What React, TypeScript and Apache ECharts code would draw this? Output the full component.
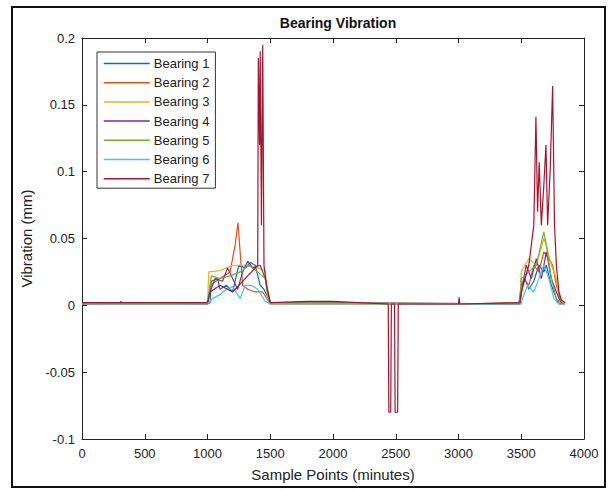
import React, { useEffect, useRef } from "react";
import * as echarts from "echarts";

const seriesNames = ["Bearing 1", "Bearing 2", "Bearing 3", "Bearing 4", "Bearing 5", "Bearing 6", "Bearing 7"];
const colors = ["#0072BD", "#D95319", "#EDB120", "#7E2F8E", "#77AC30", "#4DBEEE", "#A2142F"];
const xTicks = [0, 500, 1000, 1500, 2000, 2500, 3000, 3500, 4000];
const yTicks = [-0.1, -0.05, 0, 0.05, 0.1, 0.15, 0.2];

const bearing1: number[][] = [
  [0, 0.001], [300, 0.001], [310, 0.003], [320, 0.001], [1000, 0.001], [1020, 0.002], [1030, 0.018], [1080, 0.02],
  [1100, 0.012], [1150, 0.015], [1200, 0.01], [1250, 0.03], [1300, 0.028], [1340, 0.032], [1380, 0.03],
  [1420, 0.015], [1450, 0.012], [1480, 0.006], [1500, 0.002], [2000, 0.002], [2440, 0.001], [3000, 0.001],
  [3480, 0.001], [3500, 0.015], [3530, 0.02], [3560, 0.012], [3600, 0.018], [3640, 0.03], [3680, 0.025],
  [3700, 0.03], [3740, 0.015], [3780, 0.005], [3800, 0.001], [3850, 0.001],
];
const bearing2: number[][] = [
  [0, 0.001], [500, 0.001], [1000, 0.001], [1020, 0.015], [1100, 0.02], [1180, 0.025], [1220, 0.045],
  [1243, 0.062], [1260, 0.04], [1280, 0.015], [1320, 0.012], [1380, 0.01], [1440, 0.01], [1480, 0.004],
  [1500, 0.001], [2000, 0.001], [3000, 0.001], [3490, 0.002], [3520, 0.02], [3560, 0.015], [3600, 0.03],
  [3640, 0.025], [3680, 0.04], [3720, 0.035], [3750, 0.03], [3780, 0.015], [3820, 0.002], [3850, 0.001],
];
const bearing3: number[][] = [
  [0, 0.001], [1000, 0.001], [1010, 0.025], [1100, 0.026], [1200, 0.03], [1300, 0.03], [1400, 0.028],
  [1460, 0.026], [1480, 0.005], [1500, 0.001], [3490, 0.001], [3500, 0.025], [3560, 0.035], [3620, 0.03],
  [3680, 0.05], [3700, 0.045], [3740, 0.03], [3780, 0.02], [3800, 0.005], [3850, 0.001],
];
const bearing4: number[][] = [
  [0, 0.001], [500, 0.002], [1000, 0.001], [1020, 0.01], [1060, 0.02], [1120, 0.018], [1160, 0.028],
  [1200, 0.02], [1240, 0.012], [1280, 0.025], [1320, 0.033], [1360, 0.028], [1420, 0.03], [1460, 0.02],
  [1500, 0.002], [2000, 0.002], [3490, 0.001], [3500, 0.01], [3540, 0.03], [3580, 0.02], [3620, 0.035],
  [3660, 0.02], [3700, 0.04], [3740, 0.02], [3780, 0.01], [3820, 0.001],
];
const bearing5: number[][] = [
  [0, 0.001], [1000, 0.001], [1030, 0.022], [1100, 0.02], [1180, 0.022], [1260, 0.025], [1330, 0.03],
  [1400, 0.025], [1460, 0.02], [1490, 0.002], [3490, 0.001], [3500, 0.02], [3560, 0.025], [3620, 0.03],
  [3680, 0.055], [3700, 0.045], [3740, 0.02], [3780, 0.005], [3820, 0.001],
];
const bearing6: number[][] = [
  [0, 0.001], [1000, 0.001], [1040, 0.005], [1100, 0.008], [1150, 0.012], [1200, 0.014], [1260, 0.005],
  [1300, 0.015], [1350, 0.015], [1400, 0.012], [1460, 0.003], [1500, 0.001], [3500, 0.001], [3510, 0.005],
  [3550, 0.015], [3600, 0.01], [3640, 0.02], [3680, 0.03], [3720, 0.02], [3760, 0.005], [3800, 0.001],
];
const bearing7: number[][] = [
  [0, 0.002], [300, 0.002], [500, 0.002], [1000, 0.002], [1020, 0.01], [1100, 0.015], [1200, 0.01],
  [1300, 0.02], [1400, 0.03], [1405, 0.185], [1415, 0.12], [1420, 0.19], [1430, 0.06], [1440, 0.195],
  [1450, 0.03], [1470, 0.015], [1500, 0.002], [1800, 0.003], [2000, 0.003], [2440, 0.001], [2445, -0.08],
  [2460, -0.08], [2465, 0.001], [2490, 0.001], [2495, -0.08], [2515, -0.08], [2520, 0.001], [3000, 0.001],
  [3005, 0.006], [3010, 0.001], [3490, 0.002], [3500, 0.01], [3560, 0.03], [3600, 0.06], [3617, 0.141],
  [3630, 0.07], [3643, 0.107], [3660, 0.06], [3680, 0.09], [3697, 0.12], [3710, 0.06], [3730, 0.1],
  [3750, 0.164], [3765, 0.06], [3780, 0.03], [3800, 0.01], [3820, 0.004], [3850, 0.002],
];
const allData = [bearing1, bearing2, bearing3, bearing4, bearing5, bearing6, bearing7];

const FONT = "Liberation Sans";

export default function App() {
  const ref = useRef<HTMLDivElement>(null);
  useEffect(() => {
    if (!ref.current) return;
    const chart = echarts.init(ref.current, undefined, { renderer: "svg" });
    const xMin = xTicks[0], xMax = xTicks[xTicks.length - 1];
    const yMin = yTicks[0], yMax = yTicks[yTicks.length - 1];
    const common = {
      axisLine: { show: true, onZero: false, lineStyle: { color: "#222", width: 1 } },
      axisTick: { show: true, inside: true, length: 5, lineStyle: { color: "#222" } },
      splitLine: { show: false },
    };
    chart.setOption({
      animation: false,
      backgroundColor: "#fff",
      title: {
        text: "Bearing Vibration",
        left: 333,
        textAlign: "center",
        top: 11,
        textStyle: { fontFamily: FONT, fontSize: 14, fontWeight: "bold", color: "#111" },
      },
      legend: {
        data: seriesNames,
        orient: "vertical",
        left: 97,
        top: 52,
        padding: [5, 6, 3, 6],
        itemWidth: 46,
        itemHeight: 14,
        itemGap: 6.2,
        borderColor: "#333",
        borderWidth: 1,
        backgroundColor: "#fff",
        itemStyle: { opacity: 0 },
        lineStyle: { width: 1.5 },
        textStyle: { fontFamily: FONT, fontSize: 13, color: "#222", padding: [0, 0, 0, -1] },
      },
      graphic: [
        {
          type: "rect",
          shape: { x: 12, y: 7, width: 593, height: 480 },
          style: { fill: "none", stroke: "#111", lineWidth: 2 },
          silent: true,
        },
      ],
      grid: { left: 82, right: 30, top: 38, bottom: 51 },
      xAxis: [
        {
          type: "value",
          min: xMin,
          max: xMax,
          interval: 500,
          name: "Sample Points (minutes)",
          nameLocation: "middle",
          nameGap: 28,
          nameTextStyle: { fontFamily: FONT, fontSize: 15, color: "#222" },
          axisLabel: { fontFamily: FONT, fontSize: 13, color: "#222", margin: 8, formatter: (v: number) => String(v) },
          ...common,
        },
        {
          type: "value",
          position: "top",
          min: xMin,
          max: xMax,
          interval: 500,
          axisLabel: { show: false },
          ...common,
        },
      ],
      yAxis: [
        {
          type: "value",
          min: yMin,
          max: yMax,
          interval: 0.05,
          name: "Vibration (mm)",
          nameLocation: "middle",
          nameGap: 48,
          nameTextStyle: { fontFamily: FONT, fontSize: 15, color: "#222" },
          axisLabel: { fontFamily: FONT, fontSize: 13, color: "#222", margin: 7 },
          ...common,
        },
        {
          type: "value",
          position: "right",
          min: yMin,
          max: yMax,
          interval: 0.05,
          axisLabel: { show: false },
          ...common,
        },
      ],
      series: seriesNames.map((name, i) => ({
        name,
        type: "line",
        data: allData[i],
        symbol: "none",
        color: colors[i],
        lineStyle: { width: 1.2, color: colors[i] },
      })),
    });
    return () => chart.dispose();
  }, []);
  return (
    <div
      ref={ref}
      style={{ position: "fixed", left: 0, top: 0, width: 614, height: 490, background: "#fff" }}
    />
  );
}
